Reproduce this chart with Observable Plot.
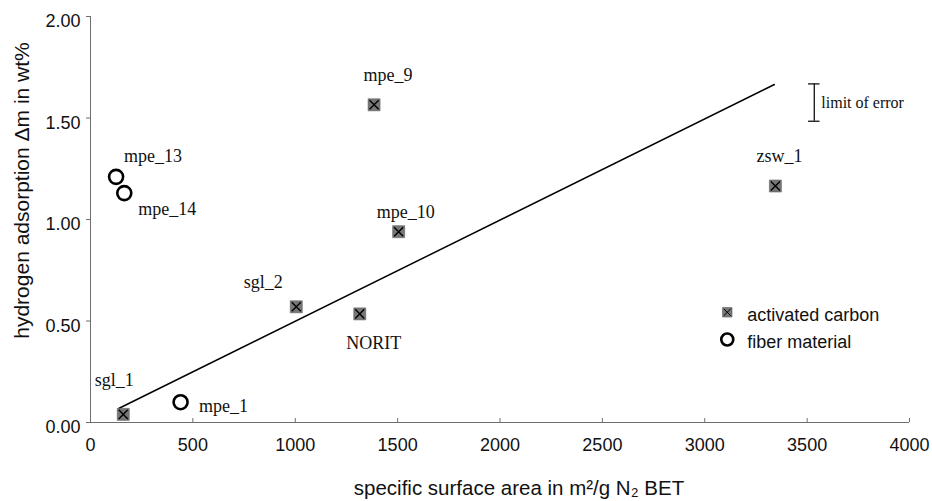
<!DOCTYPE html>
<html><head><meta charset="utf-8">
<script src="https://cdn.jsdelivr.net/npm/d3@7"></script>
<script src="https://cdn.jsdelivr.net/npm/@observablehq/plot@0.6"></script>
<style>body{margin:0;background:#fff}</style>
</head><body><div id="chart"></div>
<script>
// activated carbon samples
const carbonNames = ["sgl_1", "sgl_2", "NORIT", "mpe_9", "mpe_10", "zsw_1"];
const carbonArea  = [160, 1005, 1315, 1385, 1505, 3345];
const carbonH2    = [0.04, 0.57, 0.535, 1.565, 0.94, 1.165];
// fiber material samples
const fiberNames = ["mpe_1", "mpe_13", "mpe_14"];
const fiberArea  = [440, 125, 165];
const fiberH2    = [0.10, 1.21, 1.13];
// trend line end points
const fitArea = [140, 3340];
const fitH2   = [0.07, 1.665];
// limit of error bar
const errArea = [3535];
const errLow  = [1.484];
const errHigh = [1.668];
const errLabel = "limit of error";
// ticks
const xTicks = [0, 500, 1000, 1500, 2000, 2500, 3000, 3500, 4000];
const yTicks = [0, 0.5, 1.0, 1.5, 2.0];
const legendLabels = ["activated carbon", "fiber material"];
const xTitle = "specific surface area in m²/g N₂ BET";
const yTitle = "hydrogen adsorption Δm in wt%";

// layout (pixel offsets of labels relative to their points)
const labelOffset = {
  sgl_1: [-9, -28], sgl_2: [-33, -19], NORIT: [14, 35], mpe_9: [14, -24],
  mpe_10: [7, -14], zsw_1: [4, -24], mpe_1: [43, 10], mpe_13: [37, -15], mpe_14: [43, 22]
};
const legendPos = {x: 3110, y: [0.543, 0.409]};

const carbon = carbonNames.map((n, i) => ({name: n, x: carbonArea[i], y: carbonH2[i]}));
const fiber = fiberNames.map((n, i) => ({name: n, x: fiberArea[i], y: fiberH2[i]}));
const fit = fitArea.map((x, i) => ({x, y: fitH2[i]}));
const err = errArea.map((x, i) => ({x, y1: errLow[i], y2: errHigh[i]}));
const all = [...carbon, ...fiber];

const serif = "Liberation Serif, Times New Roman, serif";
const grey = "#6e6e6e";

const labelMarks = all.map(d => Plot.text([d], {
  x: "x", y: "y", text: "name", dx: labelOffset[d.name][0], dy: labelOffset[d.name][1],
  lineAnchor: "bottom", textAnchor: "middle", fontFamily: serif, fontSize: 18, fill: "#111"
}));

const chart = Plot.plot({
  width: 932, height: 501,
  marginLeft: 90, marginRight: 23, marginTop: 16, marginBottom: 79,
  style: {fontFamily: "Liberation Sans, Arial, sans-serif", fontSize: "18px", background: "#fff", color: "#111"},
  x: {domain: [0, 4000]},
  y: {domain: [0, 2]},
  marks: [
    Plot.ruleX([0], {stroke: grey}),
    Plot.ruleY([0], {stroke: grey}),
    Plot.ruleX(xTicks, {x: d => d, y1: 0, y2: 0.02, stroke: grey}),
    Plot.axisX(xTicks, {tickSize: 0, tickPadding: 16, tickFormat: d3.format("d"), label: null, fontSize: 18, fill: "#111"}),
    Plot.axisY(yTicks, {tickSize: 4, tickFormat: () => null, label: null, stroke: grey}),
    Plot.axisY(yTicks, {tickSize: 0, tickPadding: 10, dy: 5, tickFormat: d3.format(".2f"), label: null, fontSize: 18, fill: "#111"}),
    Plot.text([yTitle], {frameAnchor: "left", text: d => d, rotate: -90, dx: -68, dy: -29, textAnchor: "middle", lineAnchor: "middle", fontSize: 21, fill: "#111"}),
    Plot.text([xTitle], {frameAnchor: "bottom", text: d => d, dx: 19, dy: 72, textAnchor: "middle", lineAnchor: "bottom", fontSize: 20.5, fill: "#111"}),
    Plot.line(fit, {x: "x", y: "y", stroke: "#000", strokeWidth: 1.5}),
    Plot.ruleX(err, {x: "x", y1: "y1", y2: "y2", stroke: "#111", strokeWidth: 1.3}),
    Plot.ruleY(err, {y: "y1", x1: d => d.x - 28, x2: d => d.x + 28, stroke: "#111", strokeWidth: 1.3}),
    Plot.ruleY(err, {y: "y2", x1: d => d.x - 28, x2: d => d.x + 28, stroke: "#111", strokeWidth: 1.3}),
    Plot.text(err, {x: "x", y: d => (d.y1 + d.y2) / 2, text: () => errLabel, dx: 7, dy: 5, textAnchor: "start", lineAnchor: "bottom", fontFamily: serif, fontSize: 16, fill: "#111"}),
    Plot.dot(carbon, {x: "x", y: "y", symbol: "square", r: 6.8, fill: "#777", stroke: "#555", strokeWidth: 0.5}),
    Plot.dot(carbon, {x: "x", y: "y", symbol: "times", r: 4.2, stroke: "#000", strokeWidth: 1.4}),
    Plot.dot(fiber, {x: "x", y: "y", symbol: "circle", r: 7, fill: "#fff", stroke: "#000", strokeWidth: 2.6}),
    ...labelMarks,
    // legend
    Plot.dot([legendLabels[0]], {x: () => legendPos.x, y: () => legendPos.y[0], symbol: "square", r: 5.4, fill: "#777", stroke: "#555", strokeWidth: 0.5}),
    Plot.dot([legendLabels[0]], {x: () => legendPos.x, y: () => legendPos.y[0], symbol: "times", r: 3.2, stroke: "#000", strokeWidth: 1}),
    Plot.dot([legendLabels[1]], {x: () => legendPos.x, y: () => legendPos.y[1], symbol: "circle", r: 6, fill: "#fff", stroke: "#000", strokeWidth: 2.6}),
    Plot.text(legendLabels, {x: () => legendPos.x, y: (d, i) => legendPos.y[i], text: d => d, dx: 20, dy: 3, textAnchor: "start", fontSize: 18, fill: "#111"})
  ]
});
document.getElementById("chart").append(chart);
</script>
</body></html>
